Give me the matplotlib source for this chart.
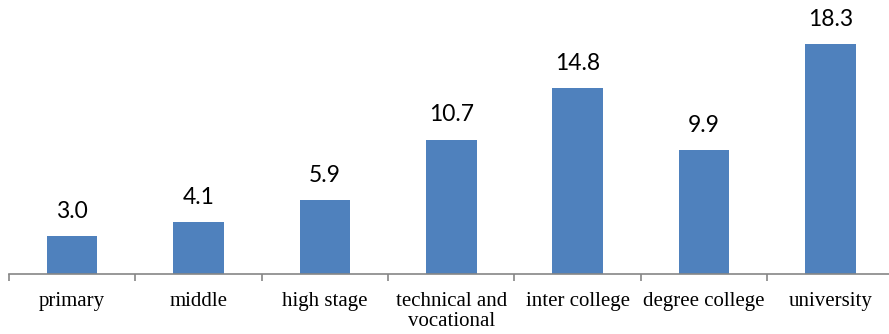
import matplotlib
matplotlib.use("Agg")
import matplotlib.pyplot as plt
import numpy as np

categories = ["primary", "middle", "high stage", "technical and\nvocational",
              "inter college", "degree college", "university"]
values = [3.0, 4.1, 5.9, 10.7, 14.8, 9.9, 18.3]

bar_color = "#4F81BD"
axis_color = "#868686"

fig = plt.figure(figsize=(8.89, 3.34), dpi=100)
# axes: x from 9px to ~893px, baseline at y=274px, 12.57 px per unit
left = 9 / 889
width = 884.5 / 889
bottom = 60 / 334
ymax = 21.8
height = ymax * 12.57 / 334
ax = fig.add_axes([left, bottom, width, height])

x = np.arange(len(categories))
ax.bar(x, values, width=0.4, color=bar_color, zorder=2)

for xi, v in zip(x, values):
    ax.annotate(f"{v:.1f}", (xi, v), xytext=(0, 13), textcoords="offset points",
                ha="center", va="baseline", fontsize=16.5, family="Lato",
                color="black")

ax.set_xlim(-0.5, len(categories) - 0.5)
ax.set_ylim(0, ymax)

for s in ["top", "right", "left"]:
    ax.spines[s].set_visible(False)
ax.spines["bottom"].set_color(axis_color)
ax.spines["bottom"].set_linewidth(1.2)
ax.set_yticks([])

ax.set_xticks(x)
ax.set_xticklabels(categories, fontsize=15, family="Liberation Serif",
                   linespacing=1.1)
ax.tick_params(axis="x", which="major", length=0, pad=13)
ax.set_xticks(np.arange(len(categories) + 1) - 0.5, minor=True)
ax.tick_params(axis="x", which="minor", length=5, width=1.2, color=axis_color,
               direction="out")

fig.savefig("out.png", dpi=100)
